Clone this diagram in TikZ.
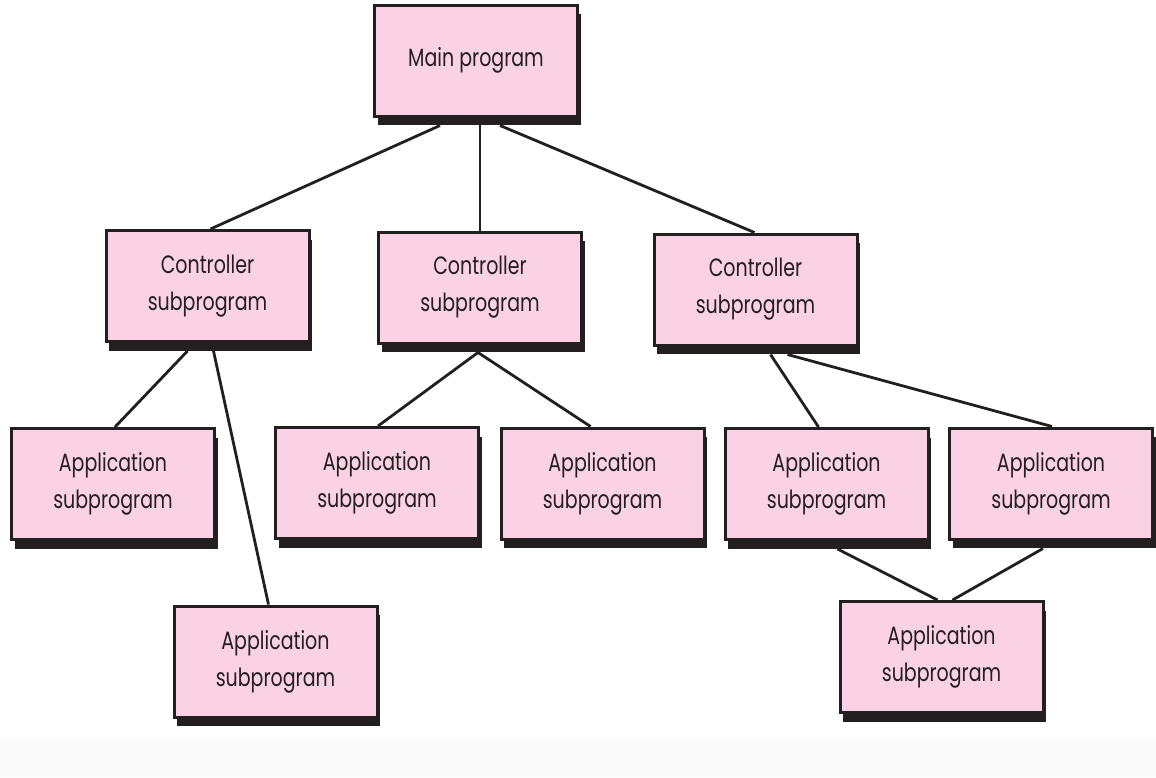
\documentclass[tikz,border=0pt]{standalone}
\usepackage{fontspec}
\newfontfamily\boxfont[FakeStretch=0.76]{Poppins}
\usetikzlibrary{shadows,calc}
\definecolor{boxpink}{RGB}{250,210,228}
\definecolor{ink}{RGB}{35,31,32}
\definecolor{bandgray}{RGB}{250,250,250}
\tikzset{
  progbox/.style={draw=ink, line width=3pt, fill=boxpink,
    minimum width=203pt, minimum height=111pt, inner sep=0pt,
    align=center, text=ink,
    font={\boxfont\fontsize{25}{37}\selectfont},
    drop shadow={shadow xshift=3pt, shadow yshift=-9pt, fill=ink, opacity=1}},
  link/.style={draw=ink, line width=2.8pt}
}
\begin{document}
\begin{tikzpicture}[x=1pt,y=1pt]
\useasboundingbox (0,0) rectangle (1156,-777);
\fill[bandgray] (0,-737) rectangle (1156,-777);
% boxes
\node[progbox] (main)  at (476,-60.5) {Main program};
\node[progbox] (ctrlA) at (207.5,-286) {Controller\\subprogram};
\node[progbox] (ctrlB) at (480,-287.5) {Controller\\subprogram};
\node[progbox] (ctrlC) at (755.5,-289.5) {Controller\\subprogram};
\node[progbox] (appL1) at (113,-484) {Application\\subprogram};
\node[progbox] (appC1) at (377,-483) {Application\\subprogram};
\node[progbox] (appC2) at (602.5,-483.5) {Application\\subprogram};
\node[progbox] (appR1) at (826.5,-484) {Application\\subprogram};
\node[progbox] (appR2) at (1051,-483.5) {Application\\subprogram};
\node[progbox] (appL2) at (275.5,-661.5) {Application\\subprogram};
\node[progbox] (appR3) at (941.5,-657) {Application\\subprogram};
% connectors
\draw[link] ([xshift=-36pt,yshift=-8pt]main.south) -- ([xshift=3pt]ctrlA.north);
\draw[link] (ctrlB.north) -- (ctrlB.north |- main.south);
\draw[link] ([xshift=24pt,yshift=-8pt]main.south) -- ([xshift=-1pt]ctrlC.north);
\draw[link] ([xshift=-20pt,yshift=-8pt]ctrlA.south) -- ([xshift=2pt]appL1.north);
\draw[link] ([xshift=6pt,yshift=-8pt]ctrlA.south) -- ([xshift=-7pt]appL2.north);
\draw[link] ([xshift=-2pt,yshift=-8pt]ctrlB.south) -- ([xshift=1pt]appC1.north);
\draw[link] ([xshift=-2pt,yshift=-8pt]ctrlB.south) -- ([xshift=-12pt]appC2.north);
\draw[link] ([xshift=15pt,yshift=-8pt]ctrlC.south) -- ([xshift=-8pt]appR1.north);
\draw[link] ([xshift=32pt,yshift=-8pt]ctrlC.south) -- ([xshift=1pt]appR2.north);
\draw[link] ([xshift=11pt,yshift=-8pt]appR1.south) -- ([xshift=-4pt]appR3.north);
\draw[link] ([xshift=-8pt,yshift=-8pt]appR2.south) -- ([xshift=11pt]appR3.north);
\end{tikzpicture}
\end{document}
